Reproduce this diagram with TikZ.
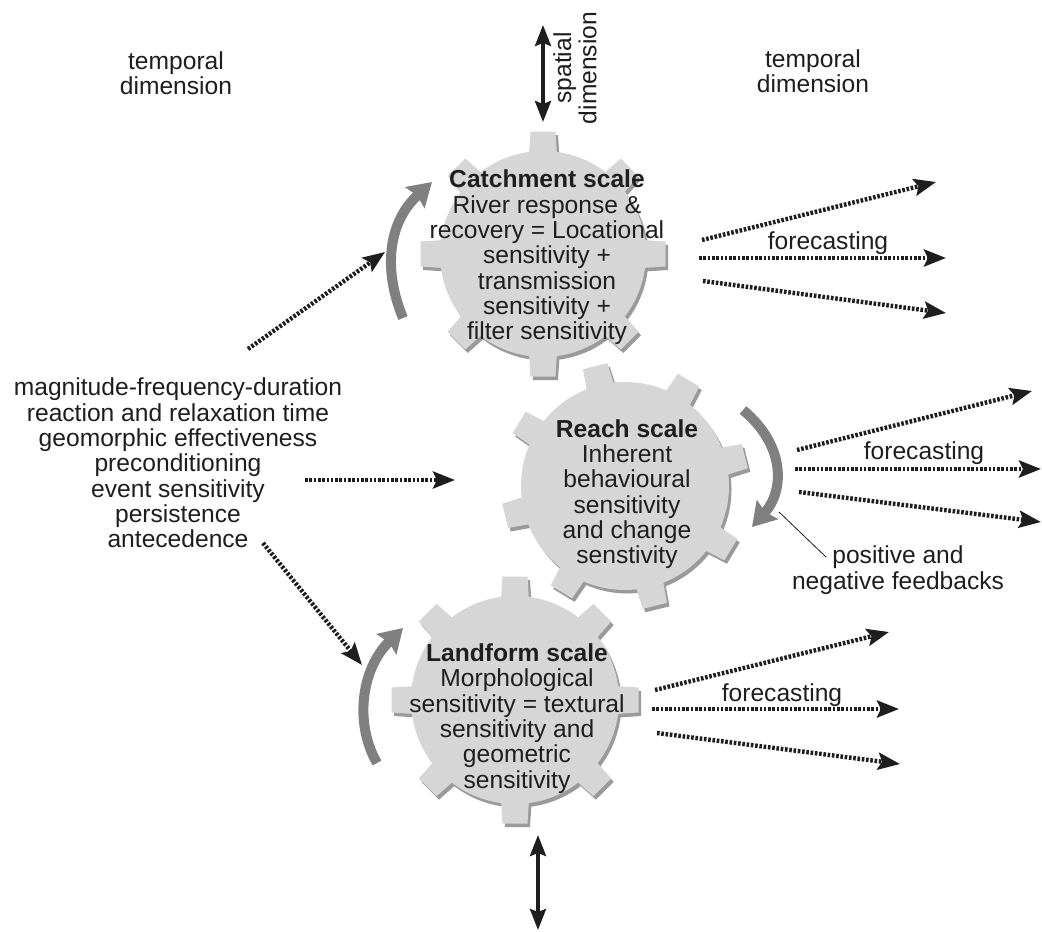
\documentclass[tikz,border=0pt]{standalone}
\usepackage{fontspec}
\setmainfont{Liberation Sans}
\usetikzlibrary{arrows.meta}
\definecolor{gearfill}{HTML}{D6D6D6}
\definecolor{gearshade}{HTML}{9A9A9A}
\definecolor{turn}{HTML}{808080}
\definecolor{ink}{HTML}{1E1E1E}
\newcommand{\gearbody}[5]{% cx cy R rot colour
  \fill[#5] (#1,#2) circle (#3pt);
  \foreach \k in {0,...,7}{
    \begin{scope}[shift={(#1,#2)},rotate={-(#4+\k*45)}]
      \fill[#5] (#3-4,-14) -- (#3+19.5,-12.5) -- (#3+19.5,12.5) -- (#3-4,14) -- cycle;
    \end{scope}
  }
}
\newcommand{\drawgear}[4]{%
  \gearbody{#1+2.5}{#2+3.5}{#3}{#4}{gearshade}
  \gearbody{#1}{#2}{#3}{#4}{gearfill}
}
\tikzset{
  x=1pt,y=-1pt,
  every node/.style={inner sep=0pt,outer sep=0pt,text=ink,align=center,font=\fontsize{24.6}{25.3}\selectfont},
  dotarrow/.style={draw=ink,line width=4.4pt,dash pattern=on 2.6pt off 1.7pt,-{Stealth[length=22pt,width=17pt,inset=4pt]}},
  turnarrow/.style={draw=turn,line width=10pt,-{Stealth[length=23pt,width=28pt,inset=3pt]}},
  dimarrow/.style={draw=ink,line width=3.5pt,{Stealth[length=21pt,width=16pt,inset=3pt]}-{Stealth[length=21pt,width=16pt,inset=3pt]}},
  leader/.style={draw=ink,line width=0.8pt}
}
\begin{document}
\begin{tikzpicture}
\useasboundingbox (0,0) rectangle (1042,932);
\fill[white] (0,0) rectangle (1042,932);

\drawgear{543}{254}{103}{0}
\drawgear{515}{700}{104}{0}
\drawgear{625}{486}{104}{31}

% coordinates
\coordinate (tdA) at (543,25);  \coordinate (tdB) at (543,122);
\coordinate (bdA) at (538,835); \coordinate (bdB) at (538,930);
\coordinate (lA0) at (248,349); \coordinate (lA1) at (385,252);
\coordinate (lB0) at (305,480); \coordinate (lB1) at (455,480);
\coordinate (lC0) at (263,543); \coordinate (lC1) at (362,665);
\coordinate (cA0) at (702,240); \coordinate (cA1) at (936,182);
\coordinate (cB0) at (699,258); \coordinate (cB1) at (946,258);
\coordinate (cC0) at (703,281); \coordinate (cC1) at (946,313);
\coordinate (rA0) at (797,450); \coordinate (rA1) at (1032,391);
\coordinate (rB0) at (795,469); \coordinate (rB1) at (1041,469);
\coordinate (rC0) at (799,492); \coordinate (rC1) at (1041,522);
\coordinate (fA0) at (655,690); \coordinate (fA1) at (889,632);
\coordinate (fB0) at (652,709); \coordinate (fB1) at (899,709);
\coordinate (fC0) at (657,733); \coordinate (fC1) at (900,764);
\coordinate (fb0) at (779,512); \coordinate (fb1) at (826,557);
\coordinate (tc0) at (403,318); \coordinate (tc1) at (432,182);
\coordinate (tr0) at (743,410); \coordinate (tr1) at (752,527);
\coordinate (tl0) at (377,763); \coordinate (tl1) at (403,628);

% rotation arrows
\draw[turnarrow] (tc0) .. controls (385,275) and (385,225) .. (tc1);
\draw[turnarrow] (tr0) .. controls (785,445) and (785,490) .. (tr1);
\draw[turnarrow] (tl0) .. controls (355,725) and (360,670) .. (tl1);

% spatial arrows
\draw[dimarrow] (tdA) -- (tdB);
\draw[dimarrow] (bdA) -- (bdB);

% dotted arrows
\foreach \p in {lA,lB,lC,cA,cB,cC,rA,rB,rC,fA,fB,fC}{
  \draw[dotarrow] (\p0) -- (\p1);
}
\draw[leader] (fb0) -- (fb1);

% texts
\node (tempL) at (176,73) {temporal\\dimension};
\node (tempR) at (813,71) {temporal\\dimension};
\node[rotate=90] (spatial) at (575,68) {spatial\\dimension};
\node (factors) at (178,463) {magnitude-frequency-duration\\reaction and relaxation time\\geomorphic effectiveness\\preconditioning\\event sensitivity\\persistence\\antecedence};
\node (catch) at (547,257.5) {\textbf{Catchment scale}\\River response \&\\recovery = Locational\\sensitivity +\\transmission\\sensitivity +\\filter sensitivity};
\node (reach) at (627,494) {\textbf{Reach scale}\\Inherent\\behavioural\\sensitivity\\and change\\senstivity};
\node (land) at (517,718.5) {\textbf{Landform scale}\\Morphological\\sensitivity = textural\\sensitivity and\\geometric\\sensitivity};
\node (fc1) at (828,243) {forecasting};
\node (fc2) at (924,453) {forecasting};
\node (fc3) at (782,695) {forecasting};
\node (fbtext) at (898,570) {positive and\\negative feedbacks};
\end{tikzpicture}
\end{document}
